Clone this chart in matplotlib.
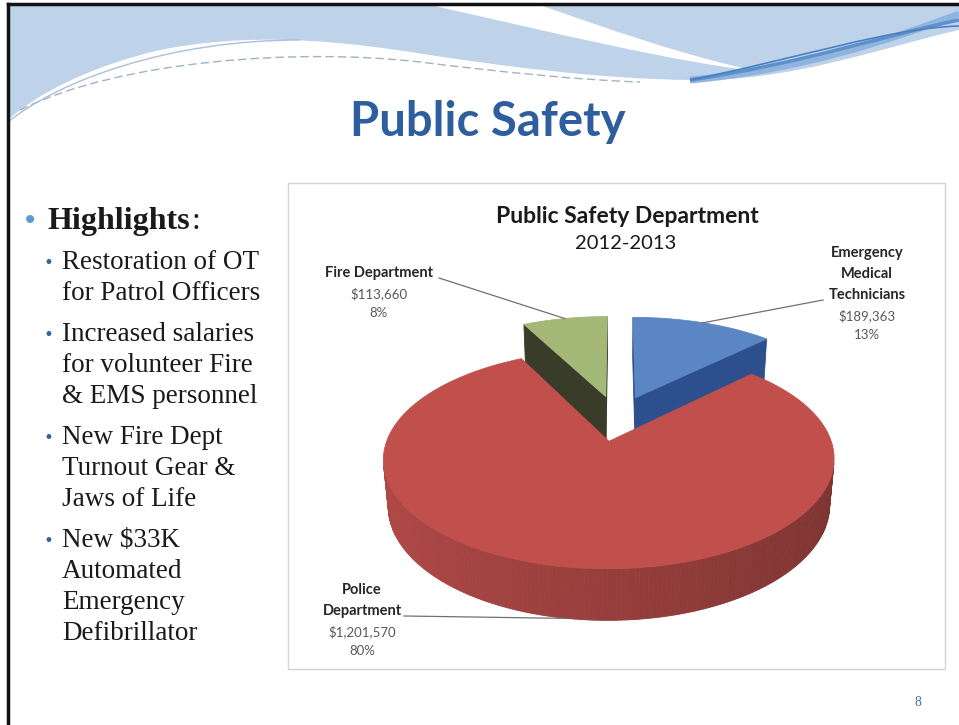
import numpy as np
import matplotlib.pyplot as plt
from matplotlib.patches import Polygon, Rectangle, PathPatch
from matplotlib.path import Path
from matplotlib.colors import to_rgb

plt.rcParams['text.parse_math'] = False

# budget by department, 2012-2013
departments = ['Emergency\nMedical\nTechnicians', 'Police\nDepartment', 'Fire Department']
budgets = [189363, 1201570, 113660]
top_colors = ['#5a86c4', '#c1504d', '#a4b878']
cut_colors = ['#2e4f8e', '#8c2f2d', '#3a3c2a']

highlights = [
    ['Restoration of OT', 'for Patrol Officers'],
    ['Increased salaries', 'for volunteer Fire', '& EMS personnel'],
    ['New Fire Dept', 'Turnout Gear &', 'Jaws of Life'],
    ['New $33K', 'Automated', 'Emergency', 'Defibrillator'],
]

# 3d pie camera
TILT = np.radians(27.5)
DIST = 5.6
FOCAL = 1200.0
CX, CY = 617, 418
THICK = 0.24
EXPLODE = 0.23
cam = np.array([0.0, -DIST * np.cos(TILT), DIST * np.sin(TILT)])


def project(x, y, z):
    s, c = np.sin(TILT), np.cos(TILT)
    v = y * s + z * c
    w = y * c - z * s
    k = FOCAL / (DIST + w)
    return CX + x * k, CY - v * k


def shade(color, f):
    return tuple(np.clip(np.array(to_rgb(color)) * f, 0, 1))


fig = plt.figure(figsize=(9.59, 7.25), dpi=100)
ax = fig.add_axes([0, 0, 1, 1])
ax.set_xlim(0, 959)
ax.set_ylim(725, 0)
ax.axis('off')

# header waves
M, C = Path.MOVETO, Path.CURVE4
L, Z = Path.LINETO, Path.CLOSEPOLY
band = Path([(8, 5), (959, 5), (959, 30),
             (880, 48), (790, 82), (690, 80),
             (600, 79), (500, 66), (410, 52),
             (320, 38), (240, 34), (160, 50),
             (90, 66), (35, 95), (8, 120), (8, 5)],
            [M, L, L, C, C, C, C, C, C, C, C, C, C, C, C, Z])
ax.add_patch(PathPatch(band, facecolor='#bed3ea', edgecolor='none', zorder=1))
swoosh = Path([(430, 5), (540, 5),
               (605, 28), (685, 56), (760, 72),
               (665, 60), (560, 34), (430, 5), (430, 5)],
              [M, L, C, C, C, C, C, C, Z])
ax.add_patch(PathPatch(swoosh, facecolor='white', edgecolor='none', zorder=2))
for lw, col, off in [(5, '#8fb4de', 0), (2.5, '#5e90cc', 6), (1.2, '#4a80c4', 12)]:
    streak = Path([(690, 80), (800, 70 - off), (890, 40 - off), (959, 14 + off)],
                  [M, C, C, C])
    ax.add_patch(PathPatch(streak, facecolor='none', edgecolor=col, lw=lw, zorder=2))
trail = Path([(20, 110), (120, 60), (300, 48), (420, 62),
              (500, 72), (580, 80), (640, 82)], [M, C, C, C, C, C, C])
ax.add_patch(PathPatch(trail, facecolor='none', edgecolor='#9fb2c6', lw=1.0,
                       ls=(0, (6, 3)), zorder=2))
rim = Path([(8, 122), (60, 80), (170, 40), (300, 40)], [M, C, C, C])
ax.add_patch(PathPatch(rim, facecolor='none', edgecolor='#a9c0d8', lw=1.0, zorder=2))

# slide frame
ax.plot([8, 8], [4, 725], color='#111111', lw=2.5, zorder=5)
ax.plot([8, 959], [4, 4], color='#111111', lw=2.5, zorder=5)

ax.text(488, 122, 'Public Safety', ha='center', va='center', fontsize=34,
        fontweight='bold', family='Lato', color='#2e5e9e')

# bullets
renderer = fig.canvas.get_renderer()
ax.text(30, 221, '\u2022', ha='center', va='center', fontsize=20, color='#5b9bd5',
        family='DejaVu Sans')
head = ax.text(48, 229, 'Highlights', ha='left', va='baseline', fontsize=23,
               fontweight='bold', family='Liberation Serif', color='#1a1a1a')
bb = head.get_window_extent(renderer).transformed(ax.transData.inverted())
ax.text(max(bb.x0, bb.x1) + 1, 229, ':', ha='left', va='baseline', fontsize=23,
        family='Liberation Serif', color='#1a1a1a')
y = 269
for item in highlights:
    ax.text(48, y - 6, '\u2022', ha='center', va='center', fontsize=12,
            color='#2f62a8', family='DejaVu Sans')
    for line in item:
        ax.text(62, y, line, ha='left', va='baseline', fontsize=19.5,
                family='Liberation Serif', color='#1a1a1a')
        y += 31
    y += 10

ax.text(918, 702, '8', ha='center', va='center', fontsize=10,
        family='Liberation Serif', color='#4a6fa5')

# chart box
ax.add_patch(Rectangle((288, 183), 657, 486, facecolor='white',
                       edgecolor='#d4d4d4', lw=1.0, zorder=3))
ax.text(627, 216, 'Public Safety Department', ha='center', va='center',
        fontsize=16.5, fontweight='bold', family='Lato', color='#1a1a1a', zorder=6)
ax.text(626, 243, '2012-2013', ha='center', va='center', fontsize=14.5,
        family='Lato', color='#1a1a1a', zorder=6)

# 3d pie
fracs = np.array(budgets) / sum(budgets)
edges = np.concatenate([[0.0], np.cumsum(fracs)]) * 2 * np.pi
attach = {}
for i in [2, 0, 1]:
    t1, t2 = edges[i], edges[i + 1]
    tm = (t1 + t2) / 2
    ox, oy = EXPLODE * np.sin(tm), EXPLODE * np.cos(tm)
    th = np.linspace(t1, t2, max(4, int(np.degrees(t2 - t1))))
    faces = []

    # cut faces along the two radii
    for t, sign in [(t1, -1), (t2, 1)]:
        n = sign * np.array([np.cos(t), -np.sin(t), 0.0])
        p = np.array([ox + 0.5 * np.sin(t), oy + 0.5 * np.cos(t), -THICK / 2])
        if np.dot(n, cam - p) > 0:
            pts = [project(ox, oy, 0), project(ox + np.sin(t), oy + np.cos(t), 0),
                   project(ox + np.sin(t), oy + np.cos(t), -THICK),
                   project(ox, oy, -THICK)]
            faces.append((np.linalg.norm(cam - p), pts, cut_colors[i]))

    # outer wall
    for a, b in zip(th[:-1], th[1:]):
        m = (a + b) / 2
        n = np.array([np.sin(m), np.cos(m), 0.0])
        p = np.array([ox + np.sin(m), oy + np.cos(m), -THICK / 2])
        if np.dot(n, cam - p) > 0:
            pts = [project(ox + np.sin(a), oy + np.cos(a), 0),
                   project(ox + np.sin(b), oy + np.cos(b), 0),
                   project(ox + np.sin(b), oy + np.cos(b), -THICK),
                   project(ox + np.sin(a), oy + np.cos(a), -THICK)]
            faces.append((np.linalg.norm(cam - p), pts,
                          shade(top_colors[i], 0.78 - 0.13 * np.sin(m))))

    for _, pts, col in sorted(faces, key=lambda f: -f[0]):
        ax.add_patch(Polygon(pts, closed=True, facecolor=col, edgecolor=col,
                             lw=0.6, zorder=4))
    top = [project(ox, oy, 0)] + [project(ox + np.sin(t), oy + np.cos(t), 0) for t in th]
    ax.add_patch(Polygon(top, closed=True, facecolor=top_colors[i],
                         edgecolor=top_colors[i], lw=0.6, zorder=4))

    z_att = -THICK if np.cos(tm) < 0 else 0
    attach[i] = project(ox + np.sin(tm), oy + np.cos(tm), z_att)

# data labels
label_pos = [(867, 253), (362, 590), (379, 273)]
leader_from = [(823, 300), (404, 616), (439, 278)]
for i, name in enumerate(departments):
    lx, ly = label_pos[i]
    for line in name.split('\n'):
        ax.text(lx, ly, line, ha='center', va='center', fontsize=10.5,
                fontweight='bold', family='Lato', color='#262626', zorder=6)
        ly += 21
    ax.text(lx, ly, f'${budgets[i]:,}', ha='center', va='center', fontsize=9.5,
            family='Lato', color='#595959', zorder=6)
    ax.text(lx, ly + 19, f'{round(fracs[i] * 100)}%', ha='center', va='center',
            fontsize=9.5, family='Lato', color='#595959', zorder=6)
    sx, sy = leader_from[i]
    ex, ey = attach[i]
    ax.plot([sx, ex], [sy, ey], color='#707070', lw=0.9, zorder=6)

fig.savefig('out.png', dpi=100)
